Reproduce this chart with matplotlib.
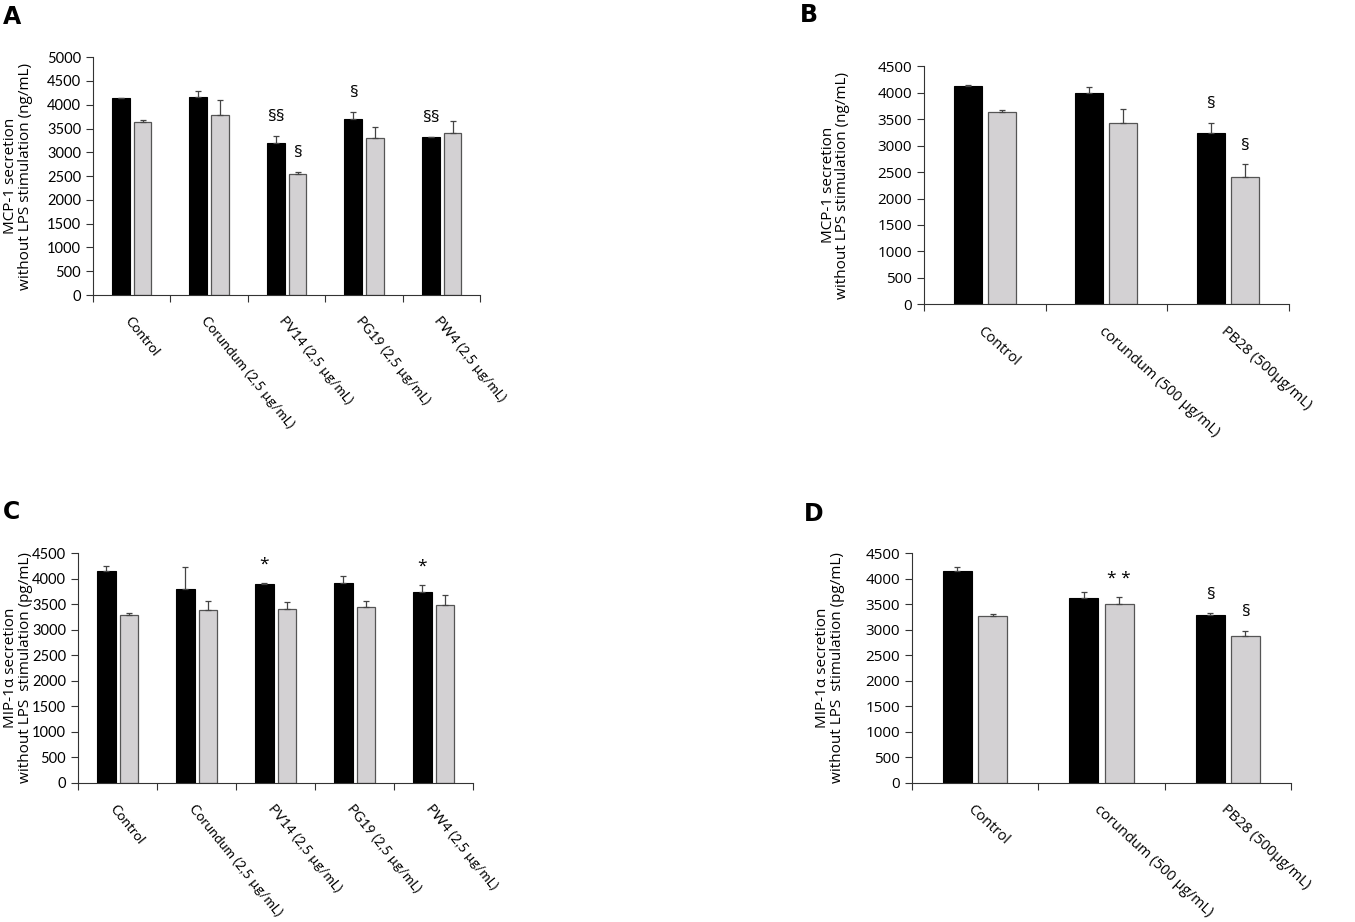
import matplotlib
matplotlib.use("Agg")
import matplotlib.pyplot as plt
import numpy as np

plt.rcParams['font.family'] = ['Open Sans', 'DejaVu Sans']

# ---- data ----
cats_a = ["Control", "Corundum (2,5 µg/mL)", "PV14 (2,5 µg/mL)", "PG19 (2,5 µg/mL)", "PW4 (2,5 µg/mL)"]
cats_b = ["Control", "corundum (500 µg/mL)", "PB28 (500µg/mL)"]

a_black = [4135, 4155, 3205, 3700, 3317]
a_black_err = [15, 140, 147, 154, 14]
a_gray = [3645, 3792, 2535, 3310, 3408]
a_gray_err = [35, 314, 55, 217, 258]
a_marks_black = ["", "", "§§", "§", "§§"]
a_marks_gray = ["", "", "§", "", ""]

b_black = [4128, 3990, 3235]
b_black_err = [12, 126, 195]
b_gray = [3644, 3423, 2398]
b_gray_err = [31, 265, 251]
b_marks_black = ["", "", "§"]
b_marks_gray = ["", "", "§"]

c_black = [4155, 3790, 3888, 3920, 3744]
c_black_err = [85, 437, 26, 137, 124]
c_gray = [3288, 3385, 3405, 3438, 3477]
c_gray_err = [39, 177, 131, 124, 196]
c_marks_black = ["", "", "*", "", "*"]
c_marks_gray = ["", "", "", "", ""]

d_black = [4142, 3628, 3283]
d_black_err = [84, 117, 40]
d_gray = [3270, 3505, 2867]
d_gray_err = [33, 136, 111]
d_marks_black = ["", "", "§"]
d_marks_gray = ["", "* *", "§"]

ylab_mcp = "MCP-1 secretion\nwithout LPS stimulation (ng/mL)"
ylab_mip = "MIP-1α secretion\nwithout LPS  stimulation (pg/mL)"

fig = plt.figure(figsize=(13.55, 9.22), dpi=100)


def panel(rect, cats, blk, blk_e, gry, gry_e, mk_b, mk_g, ymax, ylabel, letter, letter_xy,
          fam, yfs, xfs, rot, lab_x):
    ax = fig.add_axes(rect)
    n = len(cats)
    x = np.arange(n) + 0.5
    w = 0.23
    off = 0.14
    ek = dict(ecolor="#444444", elinewidth=0.9, capsize=2.5, capthick=0.9)
    ax.bar(x - off, blk, w, color="black", edgecolor="black", linewidth=0.8,
           yerr=[np.zeros(n), blk_e], error_kw=ek)
    ax.bar(x + off, gry, w, color="#d3d1d3", edgecolor="#555555", linewidth=0.9,
           yerr=[np.zeros(n), gry_e], error_kw=ek)
    sp = ymax * 0.045
    for i in range(n):
        if mk_b[i]:
            ax.text(x[i] - off, blk[i] + blk_e[i] + sp, mk_b[i], ha="center", va="bottom",
                    fontsize=12.5)
        if mk_g[i]:
            ax.text(x[i] + off, gry[i] + gry_e[i] + sp, mk_g[i], ha="center", va="bottom",
                    fontsize=12.5)
    ax.set_xlim(0, n)
    ax.set_ylim(0, ymax)
    ax.set_yticks(np.arange(0, ymax + 1, 500))
    ax.set_xticks(np.arange(n + 1))
    ax.set_xticklabels([])
    ax.set_xticks(x, minor=True)
    ax.set_xticklabels(cats, minor=True, rotation=rot, ha="left", va="top",
                       rotation_mode="anchor", fontsize=xfs, family=fam)
    for t in ax.get_yticklabels():
        t.set_family(fam)
    ax.tick_params(axis="x", which="minor", length=0, pad=14)
    ax.tick_params(axis="x", which="major", length=5, color="#333333")
    ax.tick_params(axis="y", length=5, labelsize=yfs, color="#333333")
    for s in ["top", "right"]:
        ax.spines[s].set_visible(False)
    ax.spines["left"].set_color("#333333")
    ax.spines["bottom"].set_color("#333333")
    ax.set_ylabel(ylabel, fontsize=11, linespacing=0.95)
    ax.yaxis.set_label_coords(lab_x, 0.5)
    fig.text(letter_xy[0], letter_xy[1], letter, fontsize=17, fontweight="bold",
             family="DejaVu Sans", ha="left", va="top")
    return ax


panel([0.0686, 0.680, 0.286, 0.258], cats_a, a_black, a_black_err, a_gray, a_gray_err,
      a_marks_black, a_marks_gray, 5000, ylab_mcp, "A", (0.002, 0.995),
      ["Lato", "DejaVu Sans"], 10.5, 10, -51, -0.155)
panel([0.682, 0.670, 0.269, 0.258], cats_b, b_black, b_black_err, b_gray, b_gray_err,
      b_marks_black, b_marks_gray, 4500, ylab_mcp, "B", (0.590, 0.997),
      ["Open Sans", "DejaVu Sans"], 11, 10.5, -42, -0.203)
panel([0.0576, 0.1508, 0.2915, 0.2494], cats_a, c_black, c_black_err, c_gray, c_gray_err,
      c_marks_black, c_marks_gray, 4500, ylab_mip, "C", (0.002, 0.458),
      ["Lato", "DejaVu Sans"], 10.5, 10, -51, -0.115)
panel([0.673, 0.1508, 0.2797, 0.2494], cats_b, d_black, d_black_err, d_gray, d_gray_err,
      d_marks_black, d_marks_gray, 4500, ylab_mip, "D", (0.593, 0.456),
      ["Open Sans", "DejaVu Sans"], 11, 10.5, -43, -0.177)

fig.savefig("out.png", dpi=100)
